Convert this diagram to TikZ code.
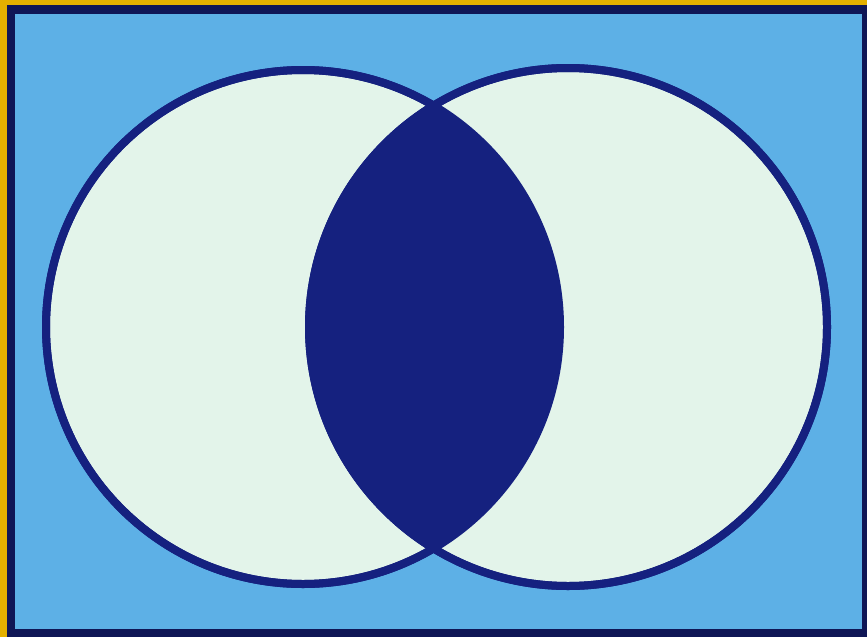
\documentclass[tikz,border=0pt]{standalone}
\usepackage{tikz}
\usepackage{xcolor}
\definecolor{frame}{HTML}{E4B000}
\definecolor{edge}{HTML}{0F1656}
\definecolor{navy}{HTML}{15217F}
\definecolor{sky}{HTML}{5DB0E6}
\definecolor{mint}{HTML}{E3F4EA}
\tikzset{
  setA/.style={draw=navy,line width=8pt,fill=mint},
  setB/.style={draw=navy,line width=8pt,fill=mint},
  ring/.style={draw=navy,line width=8pt},
}

\begin{document}
\begin{tikzpicture}[x=1pt,y=-1pt]
% frame and background
\fill[frame] (0,0) rectangle (867,637);
\fill[edge] (7,5) rectangle (867,637);
\fill[sky] (15,14) rectangle (862,629);
\useasboundingbox (0,0) rectangle (867,637);

% the two sets
\coordinate (ca) at (303,327);
\coordinate (cb) at (568,327);
\path[setA] (ca) circle[radius=257];
\path[setB] (cb) circle[radius=259];

% intersection
\begin{scope}
  \clip (ca) circle[radius=257];
  \fill[navy] (cb) circle[radius=259];
\end{scope}
\draw[ring] (ca) circle[radius=257];
\draw[ring] (cb) circle[radius=259];

\end{tikzpicture}
\end{document}
